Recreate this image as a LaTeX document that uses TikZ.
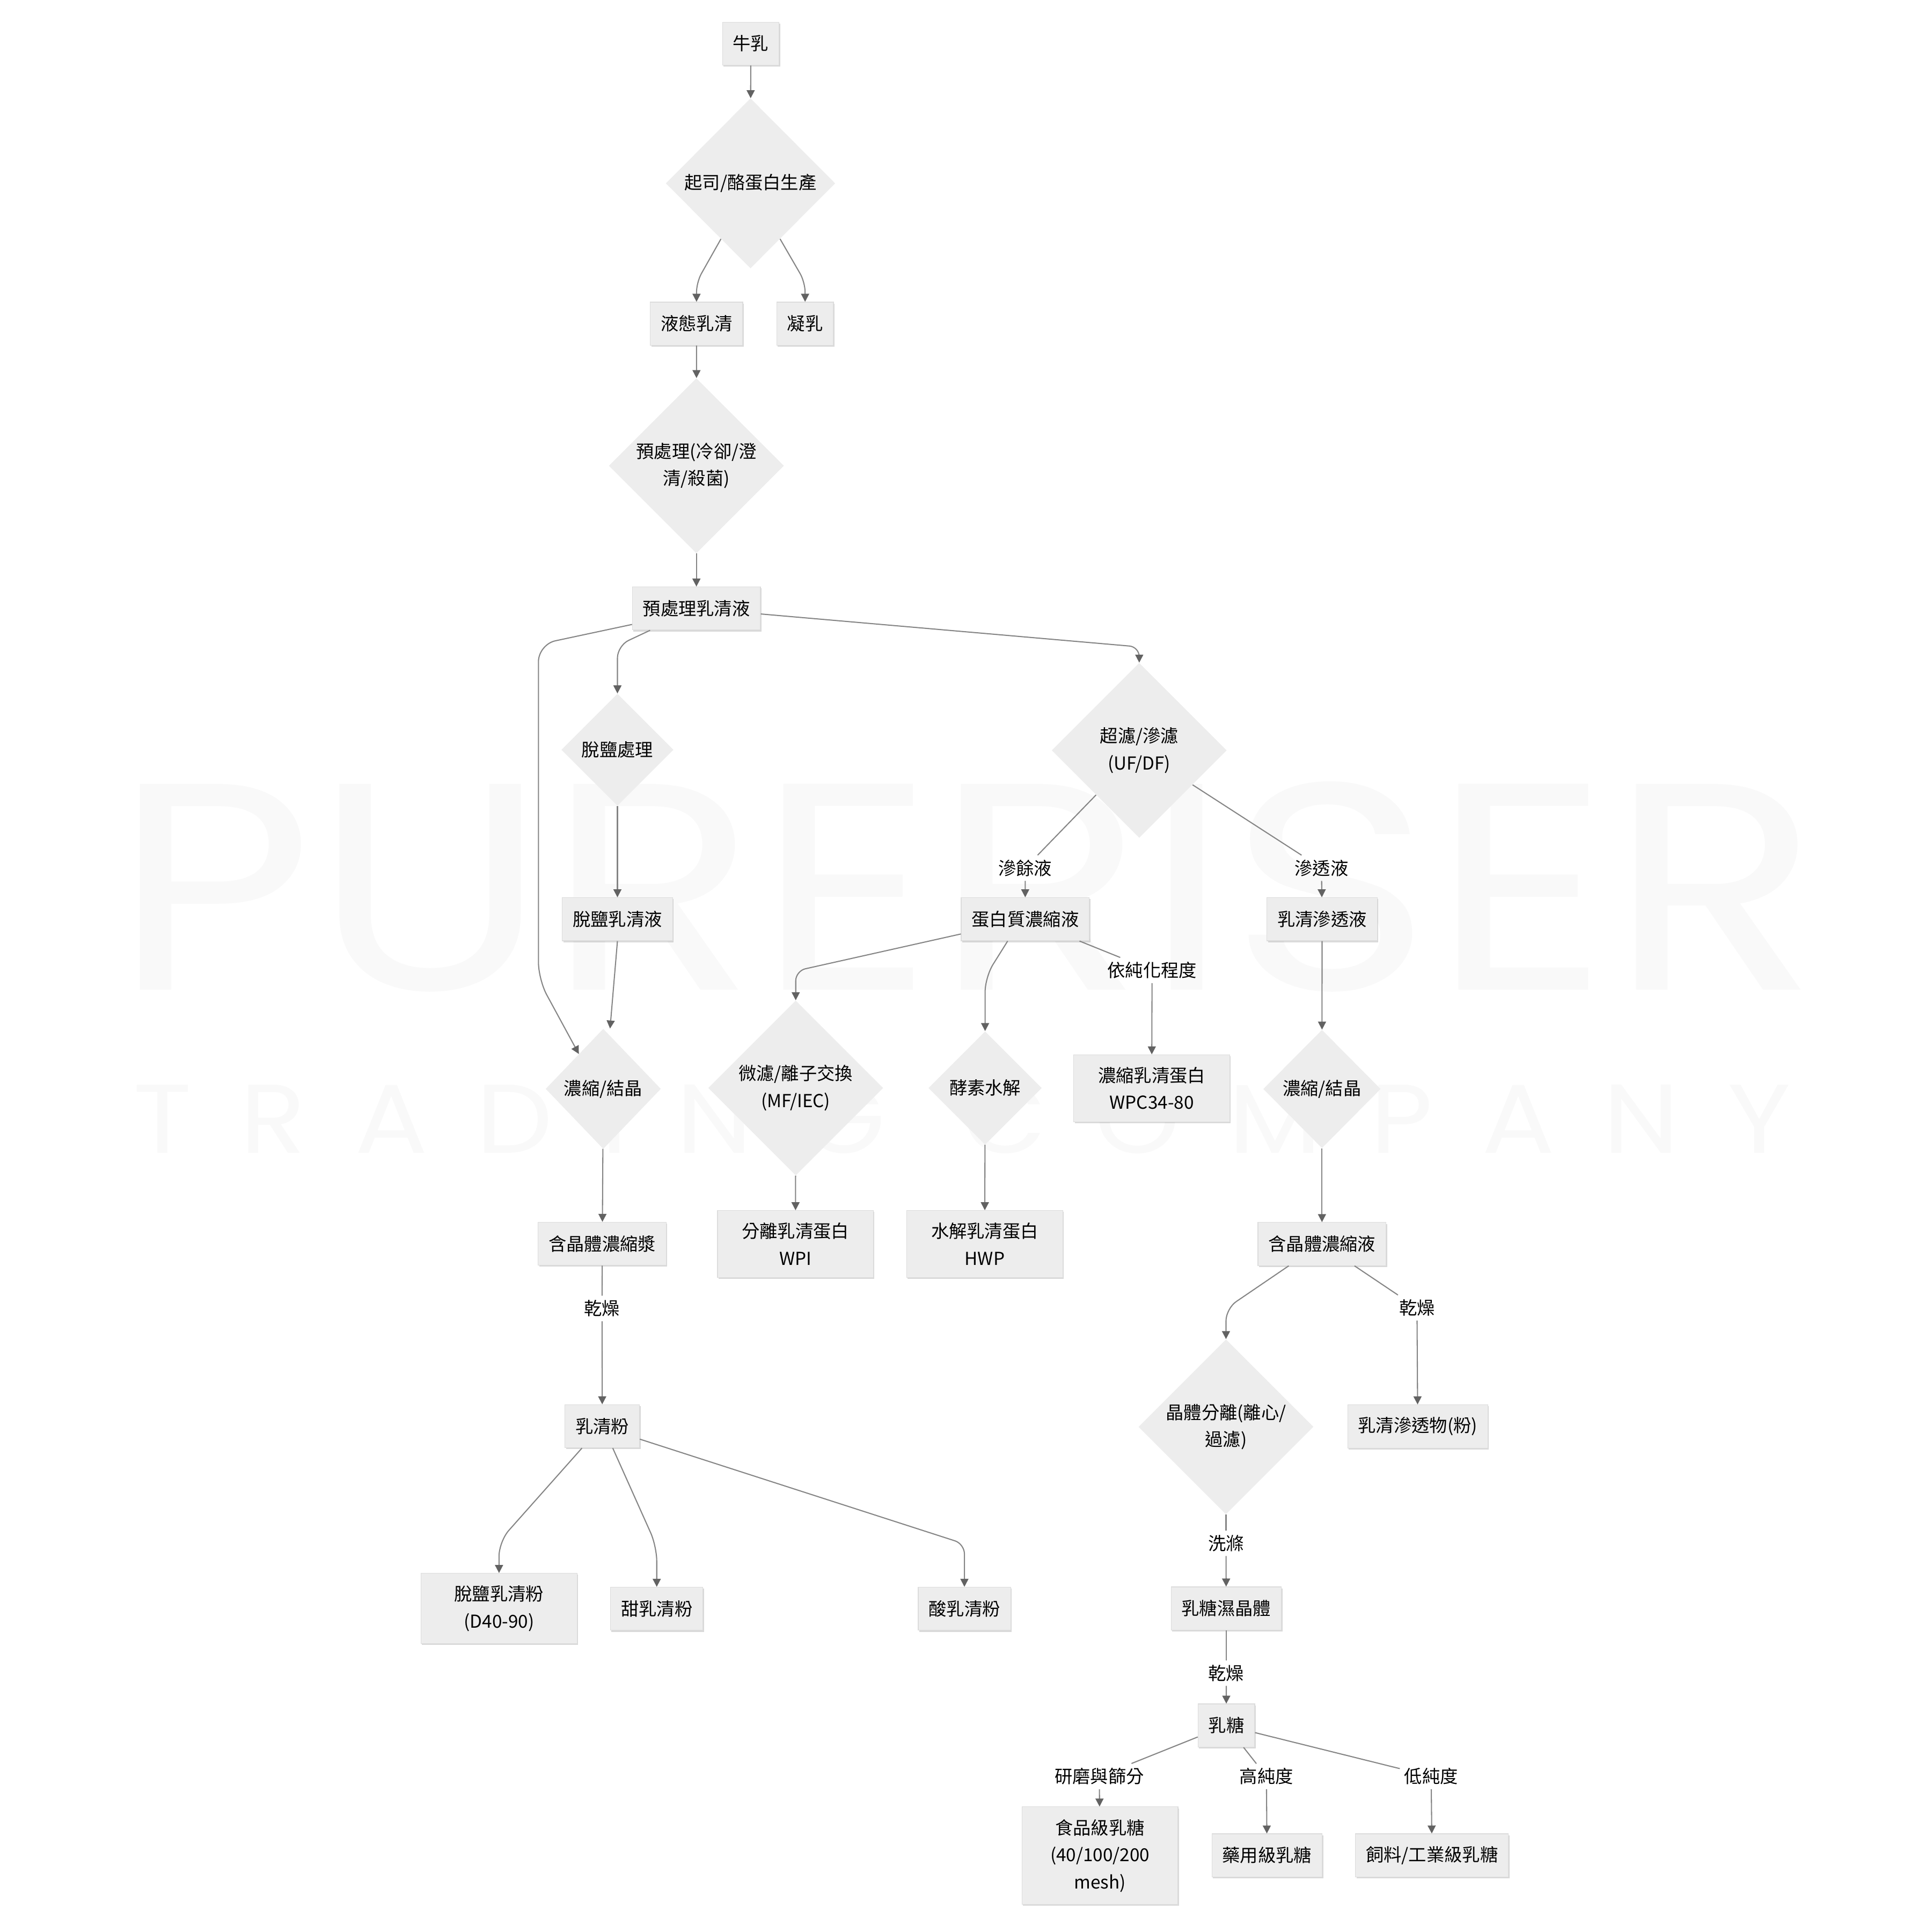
\documentclass[tikz,border=0pt]{standalone}
\usepackage{fontspec}
\setmainfont{Noto Sans CJK TC}
\newfontfamily\wmfont{Poppins}
\usepackage{graphicx}
\usepackage{tikz}
\usetikzlibrary{shapes.geometric, arrows.meta, shadows}

\definecolor{nodefill}{HTML}{EDEDED}
\definecolor{nodeline}{HTML}{DCDCDC}
\definecolor{linegray}{HTML}{858585}
\definecolor{tipgray}{HTML}{626262}
\definecolor{wmgray}{HTML}{F9F9F9}

\tikzset{
    box/.style={rectangle, fill=nodefill, draw=nodeline, line width=0.5pt, minimum height=35pt,
        inner xsep=8.5pt, inner ysep=10pt, align=center,
        drop shadow={shadow xshift=0.8pt, shadow yshift=-1.2pt, fill=black, opacity=0.15}},
    wbox/.style={box, minimum width=126.6pt},
    dia/.style={diamond, aspect=1, fill=nodefill, inner sep=0pt, align=center},
    elab/.style={inner sep=3.5pt},
    flow/.style={draw=linegray, line width=0.9pt, -{Triangle[length=6.5pt, width=6.5pt, color=tipgray]}},
    link/.style={draw=linegray, line width=0.9pt}
}

\begin{document}
\begin{tikzpicture}[x=1pt, y=-1pt, font=\fontsize{14.5pt}{22pt}\selectfont]
    \useasboundingbox (0,0) rectangle (1568,1568);
    \fill [white] (0,0) rectangle (1568,1568);

    \node (wmtop) [anchor=north west, inner sep=0pt, text=wmgray] at (92,634) {\resizebox{1383pt}{169pt}{\wmfont PURERISER}};
    \node (wmbottom) [anchor=north west, inner sep=0pt, text=wmgray] at (108,879.5) {\resizebox{1345pt}{56pt}{\wmfont\addfontfeature{LetterSpace=45}TRADING COMPANY}};

    \node (milk) [box] at (609.3,35.4) {牛乳};
    \node (cheese) [dia, minimum width=137.5pt, minimum height=138pt] at (609.1,148.8) {起司/酪蛋白生產};
    \node (whey) [box] at (565.3,262.7) {液態乳清};
    \node (curd) [box] at (653.4,262.7) {凝乳};
    \node (pretreat) [dia, minimum size=142pt] at (565.2,378) {預處理(冷卻/澄\\清/殺菌)};
    \node (pwhey) [box] at (565.2,493.8) {預處理乳清液};

    \node (desalt) [dia, minimum size=91pt] at (501.1,608.5) {脫鹽處理};
    \node (dwhey) [box] at (501.1,746) {脫鹽乳清液};
    \node (ufdf) [dia, minimum size=142pt] at (924.6,609) {超濾/滲濾\\(UF/DF)};
    \node (retlab) [elab] at (832,704.5) {滲餘液};
    \node (permlab) [elab] at (1072.5,704.5) {滲透液};
    \node (protc) [box] at (832.1,746) {蛋白質濃縮液};
    \node (wperm) [box] at (1073,746) {乳清滲透液};
    \node (puritylab) [elab] at (935,787.5) {依純化程度};

    \node (conca) [dia, minimum width=93.5pt, minimum height=97.5pt] at (489.6,883.7) {濃縮/結晶};
    \node (mfiec) [dia, minimum size=142pt] at (645.8,883) {微濾/離子交換\\(MF/IEC)};
    \node (enzyme) [dia, minimum size=92pt] at (799.5,883) {酵素水解};
    \node (wpc) [wbox] at (934.7,883.2) {濃縮乳清蛋白\\WPC34-80};
    \node (concb) [dia, minimum width=95.3pt, minimum height=96pt] at (1072.9,883.8) {濃縮/結晶};

    \node (slurry) [box] at (488.8,1009.4) {含晶體濃縮漿};
    \node (wpi) [wbox] at (645.6,1009.6) {分離乳清蛋白\\WPI};
    \node (hwp) [wbox] at (799.2,1009.6) {水解乳清蛋白\\HWP};
    \node (crysliq) [box] at (1072.9,1009.6) {含晶體濃縮液};
    \node (drylaba) [elab] at (488.6,1062) {乾燥};
    \node (drylabb) [elab] at (1150,1061.4) {乾燥};

    \node (wpowder) [box] at (488.8,1157.5) {乳清粉};
    \node (sep) [dia, minimum size=142pt] at (995,1158) {晶體分離(離心/\\過濾)};
    \node (permpow) [box] at (1150.6,1157.6) {乳清滲透物(粉)};
    \node (washlab) [elab] at (995,1252.4) {洗滌};

    \node (dwp) [wbox] at (405,1305.4) {脫鹽乳清粉\\(D40-90)};
    \node (sweet) [box] at (533,1305.6) {甜乳清粉};
    \node (acid) [box] at (782.7,1305.6) {酸乳清粉};
    \node (wetcrys) [box] at (995.2,1305.4) {乳糖濕晶體};
    \node (drylabc) [elab] at (995.2,1357.9) {乾燥};
    \node (lactose) [box] at (995.3,1400.4) {乳糖};

    \node (millab) [elab] at (892.2,1441.7) {研磨與篩分};
    \node (hilab) [elab] at (1027.8,1441.7) {高純度};
    \node (lolab) [elab] at (1161.5,1441.7) {低純度};
    \node (food) [wbox] at (892.7,1506) {食品級乳糖\\(40/100/200\\mesh)};
    \node (pharma) [box] at (1028.3,1505.8) {藥用級乳糖};
    \node (feed) [box] at (1162.2,1505.8) {飼料/工業級乳糖};

    \draw [flow] (milk) -- (cheese);
    \draw [flow, rounded corners=8pt] (cheese.-118) -- (565.3,229) -- (whey.north);
    \draw [flow, rounded corners=8pt] (cheese.-62) -- (653.4,229) -- (curd.north);
    \draw [flow] (whey) -- (pretreat);
    \draw [flow] (pretreat) -- (pwhey);

    \draw [flow, rounded corners=14pt] ([yshift=-13pt]pwhey.west) -- (437,523) -- (437,795) -- (conca.125);
    \draw [flow, rounded corners=10pt] ([xshift=-37.6pt]pwhey.south) -- (501.1,524) -- (desalt.north);
    \draw [flow, rounded corners=8pt] ([yshift=-4.5pt]pwhey.east) -- (924.6,525) -- (ufdf.north);

    \draw [flow] (desalt) -- (dwhey);
    \draw [flow] (dwhey.south) -- ([xshift=5.5pt]conca.north);
    \draw [link] (ufdf) -- (retlab);
    \draw [flow] (retlab) -- (protc);
    \draw [link] (ufdf) -- (permlab);
    \draw [flow] (permlab) -- (wperm);

    \draw [flow, rounded corners=8pt] ([yshift=-12pt]protc.west) -- (645.8,788) -- (mfiec.north);
    \draw [flow, rounded corners=12pt] ([xshift=-14.3pt]protc.south) -- (799.5,793) -- (enzyme.north);
    \draw [link] (protc) -- (puritylab);
    \draw [flow] (puritylab) -- (wpc);
    \draw [flow] (wperm) -- (concb);

    \draw [flow] (conca) -- (slurry);
    \draw [flow] (mfiec) -- (wpi);
    \draw [flow] (enzyme) -- (hwp);
    \draw [flow] (concb) -- (crysliq);

    \draw [link] (slurry) -- (drylaba);
    \draw [flow] (drylaba) -- (wpowder);
    \draw [flow, rounded corners=10pt] ([xshift=-27pt]crysliq.south) -- (995,1062) -- (sep.north);
    \draw [link] (crysliq) -- (drylabb);
    \draw [flow] (drylabb) -- (permpow);

    \draw [flow, rounded corners=12pt] ([xshift=-16.5pt]wpowder.south) -- (405,1251) -- (dwp.north);
    \draw [flow, rounded corners=12pt] ([xshift=8.5pt]wpowder.south) -- (533,1255) -- (sweet.north);
    \draw [flow, rounded corners=8pt] ([yshift=-10.5pt]wpowder.east) -- (782.7,1253) -- (acid.north);

    \draw [link] (sep) -- (washlab);
    \draw [flow] (washlab) -- (wetcrys);
    \draw [link] (wetcrys) -- (drylabc);
    \draw [flow] (drylabc) -- (lactose);
    \draw [link] (lactose) -- (millab);
    \draw [flow] (millab) -- (food);
    \draw [link] (lactose) -- (hilab);
    \draw [flow] (hilab) -- (pharma);
    \draw [link] (lactose) -- (lolab);
    \draw [flow] (lolab) -- (feed);
\end{tikzpicture}
\end{document}
